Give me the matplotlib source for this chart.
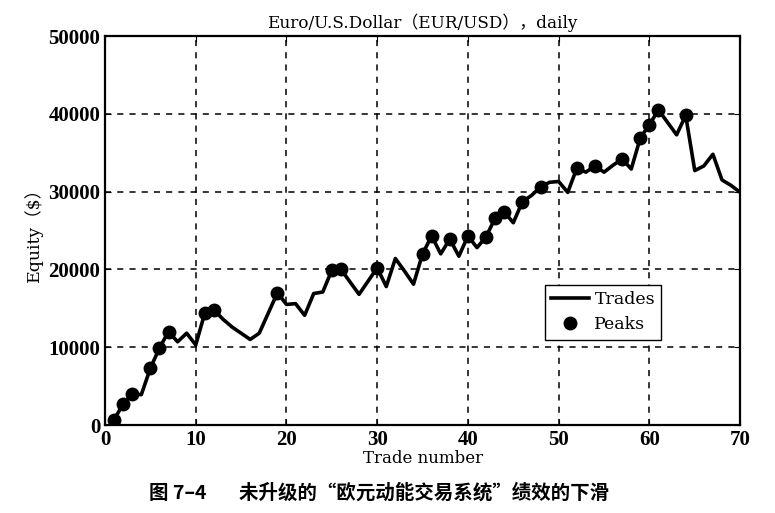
import matplotlib
matplotlib.use("Agg")
import matplotlib.pyplot as plt

# equity after each trade
trades = list(range(1, 71))
equity = [700, 2700, 4000, 3900, 7300, 9900, 12000, 10700, 11800, 10300,
          14400, 14800, 13600, 12600, 11800, 11000, 11800, 14400, 17000, 15500,
          15600, 14100, 16900, 17100, 19900, 20000, 18400, 16800, 18500, 20200,
          17800, 21400, 19800, 18100, 22000, 24300, 22000, 23900, 21700, 24300,
          22800, 24200, 26600, 27400, 26000, 28700, 29500, 30600, 31200, 31300,
          29900, 33000, 32500, 33300, 32500, 33400, 34200, 32900, 36900, 38600,
          40500, 38900, 37300, 39800, 32700, 33300, 34800, 31500, 30800, 29900]
peak_trades = [1, 2, 3, 5, 6, 7, 11, 12, 19, 25, 26, 30, 35, 36, 38, 40, 42,
               43, 44, 46, 48, 52, 54, 57, 59, 60, 61, 64]

title = "Euro/U.S.Dollar（EUR/USD），daily"
xlabel = "Trade number"
ylabel = "Equity（$）"
caption = "图 7–4\u3000   未升级的“欧元动能交易系统”绩效的下滑"

SERIF = ["DejaVu Serif", "Noto Sans CJK SC"]
TICKS = ["Liberation Serif", "DejaVu Serif"]
CJK = ["Noto Sans CJK SC", "DejaVu Sans"]

fig = plt.figure(figsize=(7.75, 5.13), dpi=100)
ax = fig.add_axes([0.1355, 0.1715, 0.8195, 0.7583])

ax.plot(trades, equity, "-", color="black", lw=2.6, label="Trades", zorder=3)
peak_vals = [equity[t - 1] for t in peak_trades]
ax.plot(peak_trades, peak_vals, "o", color="black", ms=9, label="Peaks", zorder=4)

ax.set_xlim(0, 70)
ax.set_ylim(0, 50000)
ax.set_xticks(range(0, 71, 10))
ax.set_yticks(range(0, 50001, 10000))
ax.grid(True, color="black", ls=(0, (4, 4)), lw=1.1)
ax.tick_params(direction="in", length=4, top=True, right=True, labelsize=15)
for lab in ax.get_xticklabels() + ax.get_yticklabels():
    lab.set_family(TICKS)
    lab.set_weight("bold")
for s in ax.spines.values():
    s.set_linewidth(1.6)

ax.set_title(title, family=SERIF, fontsize=12.2, pad=6)
ax.set_xlabel(xlabel, family=SERIF, fontsize=12, labelpad=0)
ax.set_ylabel(ylabel, family=SERIF, fontsize=12.5, labelpad=4)

leg = ax.legend(loc="upper left", bbox_to_anchor=(0.679, 0.383), prop={"family": SERIF, "size": 12.5},
                frameon=True, fancybox=False, edgecolor="black", framealpha=1,
                handlelength=2.2, handletextpad=0.3, borderpad=0.35, labelspacing=0.5)
leg.get_frame().set_linewidth(1.0)

fig.text(0.489, 0.039, caption, family=CJK, fontsize=14, weight="bold", ha="center", va="center")

fig.savefig("out.png", dpi=100)
